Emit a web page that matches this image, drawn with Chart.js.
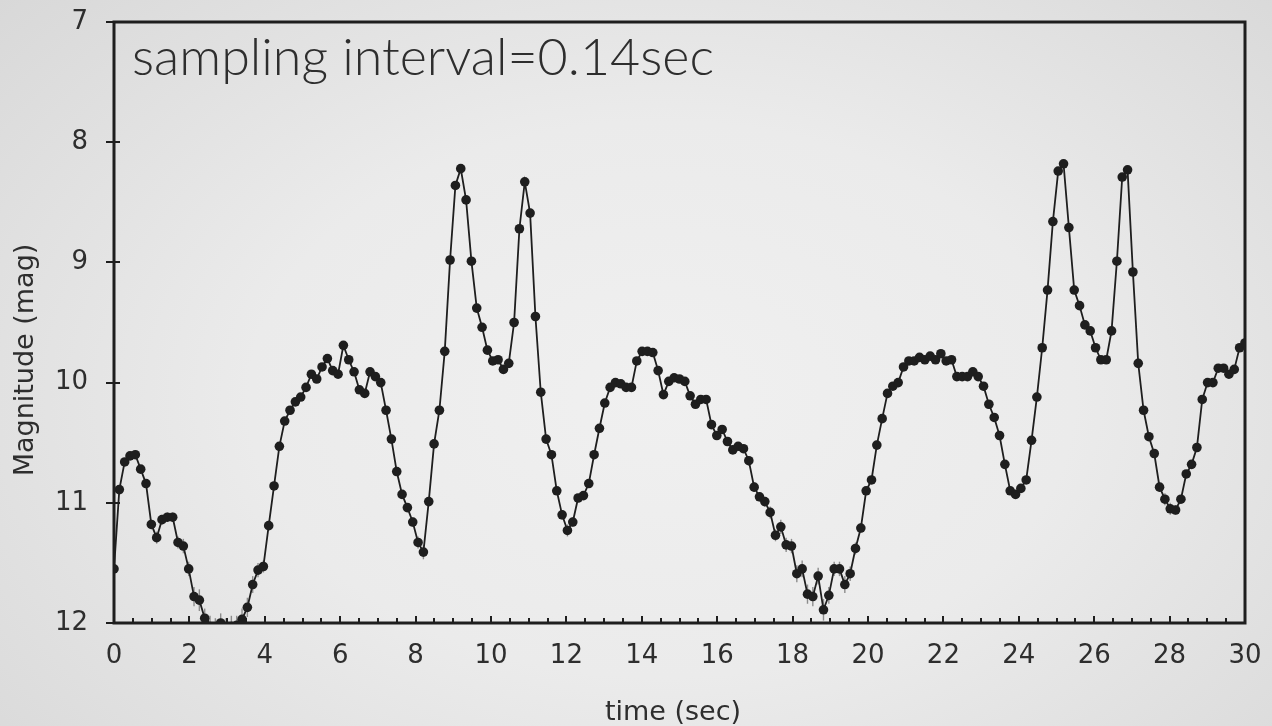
<!DOCTYPE html>
<html>
<head>
<meta charset="utf-8">
<script src="https://cdn.jsdelivr.net/npm/chart.js@4.4.1/dist/chart.umd.min.js"></script>
<style>
  html, body { margin: 0; padding: 0; }
  body {
    width: 1272px; height: 726px; overflow: hidden;
    background: radial-gradient(ellipse 72% 85% at 52% 55%, #f0f0f0 0%, #ebebeb 45%, #d7d7d7 100%);
  }
  canvas { display: block; }
</style>
</head>
<body>
<canvas id="lightCurve" width="1272" height="726"></canvas>
<script>
// light curve, one value per sample (mag), time axis in sec
const SAMPLE_STEP = 0.1415;
const magnitudes = [
  11.55, 10.89, 10.66, 10.61, 10.60, 10.72, 10.84, 11.18, 11.29, 11.14,
  11.12, 11.12, 11.33, 11.36, 11.55, 11.78, 11.81, 11.96, 12.03, 12.05,
  12.00, 12.05, 12.03, 12.02, 11.97, 11.87, 11.68, 11.56, 11.53, 11.19,
  10.86, 10.53, 10.32, 10.23, 10.16, 10.12, 10.04, 9.93, 9.97, 9.87,
  9.80, 9.90, 9.93, 9.69, 9.81, 9.91, 10.06, 10.09, 9.91, 9.95,
  10.00, 10.23, 10.47, 10.74, 10.93, 11.04, 11.16, 11.33, 11.41, 10.99,
  10.51, 10.23, 9.74, 8.98, 8.36, 8.22, 8.48, 8.99, 9.38, 9.54,
  9.73, 9.82, 9.81, 9.89, 9.84, 9.50, 8.72, 8.33, 8.59, 9.45,
  10.08, 10.47, 10.60, 10.90, 11.10, 11.23, 11.16, 10.96, 10.94, 10.84,
  10.60, 10.38, 10.17, 10.04, 10.00, 10.01, 10.04, 10.04, 9.82, 9.74,
  9.74, 9.75, 9.90, 10.10, 9.99, 9.96, 9.97, 9.99, 10.11, 10.18,
  10.14, 10.14, 10.35, 10.44, 10.39, 10.49, 10.56, 10.53, 10.55, 10.65,
  10.87, 10.95, 10.99, 11.08, 11.27, 11.20, 11.35, 11.36, 11.59, 11.55,
  11.76, 11.78, 11.61, 11.89, 11.77, 11.55, 11.55, 11.68, 11.59, 11.38,
  11.21, 10.90, 10.81, 10.52, 10.30, 10.09, 10.03, 10.00, 9.87, 9.82,
  9.82, 9.79, 9.81, 9.78, 9.81, 9.76, 9.82, 9.81, 9.95, 9.95,
  9.95, 9.91, 9.95, 10.03, 10.18, 10.29, 10.44, 10.68, 10.90, 10.93,
  10.88, 10.81, 10.48, 10.12, 9.71, 9.23, 8.66, 8.24, 8.18, 8.71,
  9.23, 9.36, 9.52, 9.57, 9.71, 9.81, 9.81, 9.57, 8.99, 8.29,
  8.23, 9.08, 9.84, 10.23, 10.45, 10.59, 10.87, 10.97, 11.05, 11.06,
  10.97, 10.76, 10.68, 10.54, 10.14, 10.00, 10.00, 9.88, 9.88, 9.93,
  9.89, 9.71, 9.67
];
// half length of the grey error bars (mag)
const magErrors = [
  0.06, 0.03, 0.03, 0.03, 0.03, 0.03, 0.03, 0.04, 0.05, 0.04,
  0.04, 0.04, 0.05, 0.06, 0.06, 0.08, 0.09, 0.08, 0.09, 0.09,
  0.08, 0.09, 0.09, 0.08, 0.09, 0.08, 0.07, 0.06, 0.05, 0.04,
  0.03, 0.03, 0.03, 0.03, 0.03, 0.03, 0.03, 0.03, 0.03, 0.03,
  0.03, 0.03, 0.03, 0.03, 0.03, 0.03, 0.03, 0.03, 0.03, 0.03,
  0.03, 0.03, 0.03, 0.03, 0.03, 0.03, 0.04, 0.05, 0.06, 0.03,
  0.03, 0.03, 0.03, 0.03, 0.03, 0.03, 0.03, 0.03, 0.03, 0.03,
  0.03, 0.03, 0.03, 0.03, 0.03, 0.03, 0.03, 0.03, 0.03, 0.03,
  0.03, 0.03, 0.03, 0.03, 0.04, 0.05, 0.04, 0.03, 0.03, 0.03,
  0.03, 0.03, 0.03, 0.03, 0.03, 0.03, 0.03, 0.03, 0.03, 0.03,
  0.03, 0.03, 0.03, 0.03, 0.03, 0.03, 0.03, 0.03, 0.03, 0.03,
  0.03, 0.03, 0.03, 0.03, 0.03, 0.03, 0.03, 0.03, 0.03, 0.04,
  0.04, 0.04, 0.04, 0.05, 0.05, 0.06, 0.06, 0.06, 0.07, 0.07,
  0.08, 0.08, 0.07, 0.09, 0.07, 0.06, 0.06, 0.07, 0.06, 0.05,
  0.04, 0.03, 0.03, 0.03, 0.03, 0.03, 0.03, 0.03, 0.03, 0.03,
  0.03, 0.03, 0.03, 0.03, 0.03, 0.03, 0.03, 0.03, 0.03, 0.03,
  0.03, 0.03, 0.03, 0.03, 0.03, 0.03, 0.03, 0.03, 0.03, 0.03,
  0.03, 0.03, 0.03, 0.03, 0.03, 0.03, 0.03, 0.03, 0.03, 0.03,
  0.03, 0.03, 0.03, 0.03, 0.03, 0.03, 0.03, 0.03, 0.03, 0.03,
  0.03, 0.03, 0.03, 0.03, 0.03, 0.03, 0.04, 0.05, 0.05, 0.04,
  0.03, 0.03, 0.03, 0.03, 0.03, 0.03, 0.03, 0.03, 0.03, 0.03,
  0.03, 0.03, 0.03
];
const xTicks = [0, 2, 4, 6, 8, 10, 12, 14, 16, 18, 20, 22, 24, 26, 28, 30];
const yTicks = [7, 8, 9, 10, 11, 12];
const noteText = 'sampling interval=0.14sec';
const xTitle = 'time (sec)';
const yTitle = 'Magnitude (mag)';

const INK = '#1e1e1e';
const TEXT = '#2e2e2e';
const TICK_FONT = { family: "'DejaVu Sans', sans-serif", size: 26 };

const points = magnitudes.map((m, i) => ({ x: i * SAMPLE_STEP, y: m, err: magErrors[i] }));

// grey error bars under the markers
const errorBars = {
    id: 'errorBars',
    beforeDatasetsDraw(chart) {
        const { ctx, chartArea, scales } = chart;
        ctx.save();
        ctx.beginPath();
        ctx.rect(chartArea.left, chartArea.top, chartArea.right - chartArea.left, chartArea.bottom - chartArea.top);
        ctx.clip();
        ctx.strokeStyle = '#8c8c8c';
        ctx.lineWidth = 1.4;
        points.forEach(p => {
            const px = scales.x.getPixelForValue(p.x);
            ctx.beginPath();
            ctx.moveTo(px, scales.y.getPixelForValue(p.y - p.err));
            ctx.lineTo(px, scales.y.getPixelForValue(p.y + p.err));
            ctx.stroke();
        });
        ctx.restore();
    }
};

// box frame, inward time ticks, crossing magnitude ticks, and the texts
const frame = {
    id: 'frame',
    afterDraw(chart) {
        const { ctx, chartArea: a, scales } = chart;
        ctx.save();
        ctx.strokeStyle = INK;
        ctx.lineWidth = 3;
        ctx.strokeRect(a.left, a.top, a.right - a.left, a.bottom - a.top);

        ctx.lineWidth = 2;
        for (let t = 0; t <= 30; t += 0.5) {
            const px = Math.round(scales.x.getPixelForValue(t));
            const len = t % 2 === 0 ? 7 : 5;
            ctx.beginPath();
            ctx.moveTo(px, a.bottom);
            ctx.lineTo(px, a.bottom - len);
            ctx.stroke();
        }
        yTicks.forEach(v => {
            const py = Math.round(scales.y.getPixelForValue(v));
            ctx.beginPath();
            ctx.moveTo(a.left - 8, py);
            ctx.lineTo(a.left + 6, py);
            ctx.stroke();
        });

        ctx.fillStyle = TEXT;
        ctx.textBaseline = 'alphabetic';
        ctx.textAlign = 'left';
        ctx.font = "300 52px Lato, 'Open Sans', sans-serif";
        ctx.fillText(noteText, 132, 75);

        ctx.font = "27px 'DejaVu Sans', sans-serif";
        ctx.textAlign = 'center';
        ctx.fillText(xTitle, 673, 720);

        ctx.translate(33, 360);
        ctx.rotate(-Math.PI / 2);
        ctx.fillText(yTitle, 0, 0);
        ctx.restore();
    }
};

new Chart(document.getElementById('lightCurve'), {
    type: 'line',
    data: {
        datasets: [{
            data: points,
            borderColor: INK,
            borderWidth: 1.8,
            backgroundColor: INK,
            pointRadius: 4.8,
            pointBorderWidth: 0,
            pointBackgroundColor: INK,
            tension: 0
        }]
    },
    options: {
        responsive: false,
        animation: false,
        layout: { padding: { top: 22, right: 27, left: 0, bottom: 0 } },
        plugins: {
            legend: { display: false },
            tooltip: { enabled: false }
        },
        scales: {
            x: {
                type: 'linear',
                min: 0,
                max: 30,
                afterFit: s => {
                    s.height = 103;
                    s.paddingLeft = 0;
                    s.paddingRight = 0;
                },
                afterBuildTicks: s => { s.ticks = xTicks.map(v => ({ value: v })); },
                grid: { display: false, drawTicks: false },
                border: { display: false },
                ticks: { padding: 18, color: TEXT, font: TICK_FONT, maxRotation: 0 }
            },
            y: {
                type: 'linear',
                reverse: true,
                min: 7,
                max: 12,
                afterFit: s => {
                    s.width = 114;
                    s.paddingTop = 0;
                    s.paddingBottom = 0;
                },
                afterBuildTicks: s => { s.ticks = yTicks.map(v => ({ value: v })); },
                grid: { display: false, drawTicks: false },
                border: { display: false },
                ticks: { padding: 26, color: TEXT, font: TICK_FONT }
            }
        }
    },
    plugins: [errorBars, frame]
});
</script>
</body>
</html>
